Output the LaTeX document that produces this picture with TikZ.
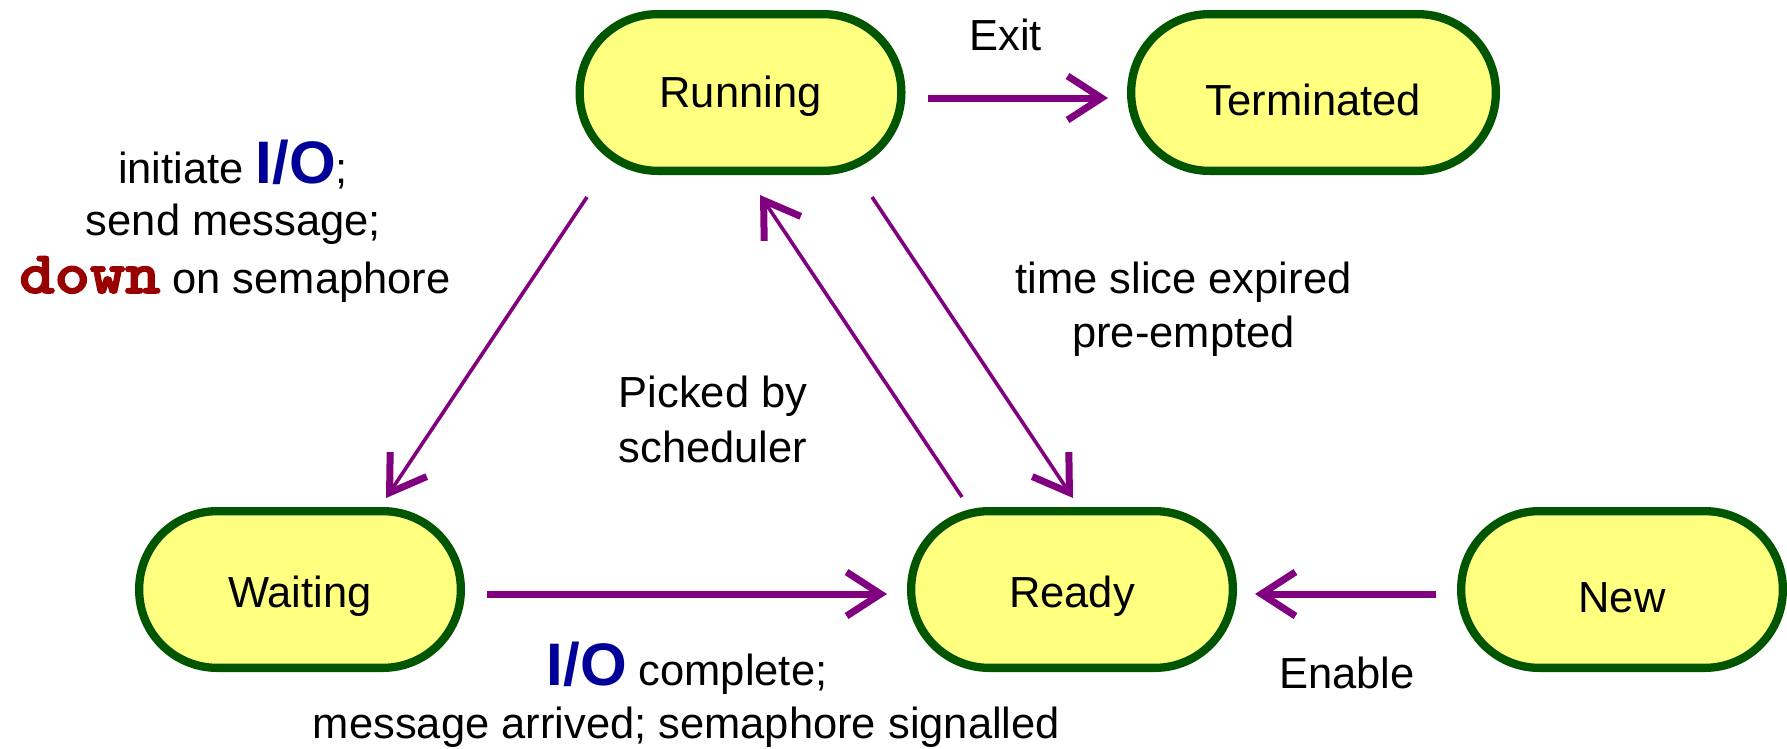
\documentclass[tikz,border=0pt]{standalone}
\usepackage{fontspec}
\setmainfont{Liberation Sans}
\newfontfamily\codefont{lmmonolt10-bold.otf}[FakeBold=2.5]
\usetikzlibrary{arrows.meta}

\definecolor{arrowpurple}{RGB}{128,0,128}
\definecolor{nodegreen}{RGB}{0,85,0}
\definecolor{nodefill}{RGB}{255,255,128}
\definecolor{ioblue}{RGB}{0,0,153}
\definecolor{downred}{RGB}{153,0,0}

\newcommand{\iotext}{{\fontsize{60pt}{60pt}\selectfont\bfseries\color{ioblue}I/O}}
\newcommand{\downtext}{\scalebox{1.12}[1]{\codefont\fontsize{60pt}{60pt}\selectfont\color{downred}down}}

\begin{document}
\begin{tikzpicture}[x=1pt,y=-1pt,
  font=\fontsize{43.5pt}{52pt}\selectfont,
  state/.style={draw=nodegreen, line width=8.3pt, fill=nodefill,
    rounded corners=78pt, minimum width=321.7pt, minimum height=156.7pt,
    inner sep=0pt, text height=35pt, text depth=0pt},
  lowtext/.style={text height=45pt},
  hightext/.style={text height=29pt},
  tip/.style={-{Straight Barb[length=34pt,width=44pt,line width=7pt]}},
  flow/.style={draw=arrowpurple, line width=7pt, tip},
  diag/.style={draw=arrowpurple, line width=3.6pt, tip},
  lbl/.style={anchor=base, inner sep=0pt}]

\path[use as bounding box] (0,0) rectangle (1787,748);

% process states
\node[state, hightext] (run)  at (740.5,92.5)  {Running};
\node[state, lowtext, minimum width=364.7pt] (term) at (1313.5,92.5) {Terminated};
\node[state] (wait) at (300,589.5)   {Waiting};
\node[state] (ready) at (1072,589.5) {Ready};
\node[state, lowtext] (new)  at (1622,589.5)  {New};

% transitions
\draw[flow] ([xshift=22pt,yshift=-5.5pt]run.east) -- ([xshift=-19pt,yshift=-5.5pt]term.west);
\draw[flow] ([xshift=22pt,yshift=-4.5pt]wait.east) -- ([xshift=-20pt,yshift=-4.5pt]ready.west);
\draw[flow] ([xshift=-21pt,yshift=-4.5pt]new.west) -- ([xshift=18pt,yshift=-4.5pt]ready.east);
\draw[diag] ([shift={(-153.5,104.5)}]run.center) -- ([shift={(86,-91.5)}]wait.center);
\draw[diag] ([shift={(-110,-92.5)}]ready.center) -- ([shift={(19.5,102.5)}]run.center);
\draw[diag] ([shift={(131.5,104.5)}]run.center) -- ([shift={(1,-91.5)}]ready.center);

% transition labels
\node[lbl] (exitlbl) at (1005.5,50) {Exit};

\node[lbl] (iolbla) at (233,183) {initiate \iotext;};
\node[lbl] (iolblb) at (233.5,235) {send message;};
\node[lbl] (iolblc) at (235,293) {\downtext{} on semaphore};

\node[lbl] (slicea) at (1183.5,293) {time slice expired};
\node[lbl] (sliceb) at (1183.5,347) {pre-empted};

\node[lbl] (picka) at (713,407) {Picked by};
\node[lbl] (pickb) at (713,462) {scheduler};

\node[lbl] (donea) at (687,685) {\iotext{} complete;};
\node[lbl] (doneb) at (686.5,738) {message arrived; semaphore signalled};

\node[lbl] (enablelbl) at (1347,688) {Enable};
\end{tikzpicture}
\end{document}
